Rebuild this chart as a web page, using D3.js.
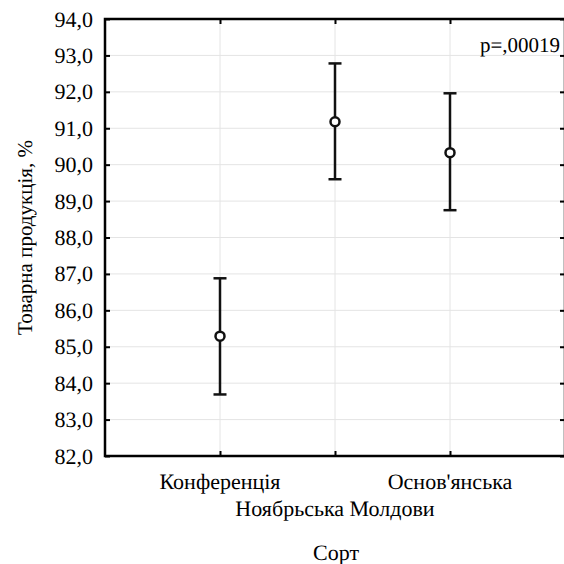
<!DOCTYPE html>
<html>
<head>
<meta charset="utf-8" />
<title>Товарна продукція</title>
<style>
  body { margin: 0; background: #fff; }
  svg { display: block; }
  svg text { text-rendering: geometricPrecision; }
</style>
</head>
<body>
<div id="chart"></div>
<script src="https://d3js.org/d3.v7.min.js"></script>
<script>
(function(d3) {
'use strict';

// data
var categories = ['Конференція', 'Ноябрьська Молдови', "Основ'янська"];
var means = [85.29, 91.18, 90.33];
var lower = [83.69, 89.60, 88.75];
var upper = [86.88, 92.78, 91.96];
var yTicks = [82, 83, 84, 85, 86, 87, 88, 89, 90, 91, 92, 93, 94];
var pLabel = 'p=,00019';

var width = 564, height = 564;
var left = 105, right = 565, top = 19, bottom = 456;
var serif = '"Liberation Serif"';

var svg = d3.select('#chart')
  .append('svg')
  .attr('width', width)
  .attr('height', height);

var x = d3.scalePoint()
  .domain(categories)
  .range([left, right])
  .padding(1);

var y = d3.scaleLinear()
  .domain([82, 94])
  .range([bottom, top]);

var fmt = function(d) { return d3.format('.1f')(d).replace('.', ','); };

// grid
svg.append('g').selectAll('line')
  .data(yTicks)
  .enter().append('line')
  .attr('x1', left).attr('x2', right)
  .attr('y1', function(d) { return y(d); })
  .attr('y2', function(d) { return y(d); })
  .attr('stroke', '#e4e4e4').attr('stroke-width', 1);

svg.append('g').selectAll('line')
  .data(categories)
  .enter().append('line')
  .attr('x1', function(d) { return x(d); })
  .attr('x2', function(d) { return x(d); })
  .attr('y1', top).attr('y2', bottom)
  .attr('stroke', '#e4e4e4').attr('stroke-width', 1);

// axes (ticks inward)
var tickLen = 5;
function styleTicks(g) {
  g.select('.domain').remove();
  g.selectAll('.tick line').attr('stroke', '#000').attr('stroke-width', 2);
}

svg.append('g')
  .attr('transform', 'translate(' + left + ',0)')
  .call(d3.axisLeft(y).tickValues(yTicks).tickSize(-tickLen).tickPadding(12).tickFormat(fmt))
  .call(styleTicks)
  .call(function(g) {
    g.attr('font-family', null).attr('font-size', null);
    g.selectAll('text')
      .style('font-family', serif)
      .style('font-size', '22px')
      .attr('fill', '#000');
  });

svg.append('g')
  .attr('transform', 'translate(' + right + ',0)')
  .call(d3.axisRight(y).tickValues(yTicks).tickSize(-tickLen).tickFormat(''))
  .call(styleTicks);

svg.append('g')
  .attr('transform', 'translate(0,' + bottom + ')')
  .call(d3.axisBottom(x).tickSize(-tickLen).tickFormat(''))
  .call(styleTicks);

svg.append('g')
  .attr('transform', 'translate(0,' + top + ')')
  .call(d3.axisTop(x).tickSize(-tickLen).tickFormat(''))
  .call(styleTicks);

// staggered category labels
svg.append('g').selectAll('text')
  .data(categories)
  .enter().append('text')
  .attr('x', function(d) { return x(d); })
  .attr('y', function(d, i) { return i % 2 === 0 ? 489 : 516; })
  .attr('text-anchor', 'middle')
  .style('font-family', serif)
  .style('font-size', '22px')
  .text(function(d) { return d; });

// frame
svg.append('rect')
  .attr('x', left).attr('y', top)
  .attr('width', right - left).attr('height', bottom - top)
  .attr('fill', 'none').attr('stroke', '#000').attr('stroke-width', 2.5);

// error bars
var capW = 13;
var bars = svg.append('g').selectAll('g')
  .data(categories)
  .enter().append('g');

bars.append('line')
  .attr('x1', function(d) { return x(d); })
  .attr('x2', function(d) { return x(d); })
  .attr('y1', function(d, i) { return y(upper[i]); })
  .attr('y2', function(d, i) { return y(lower[i]); })
  .attr('stroke', '#111').attr('stroke-width', 2.5);

bars.append('line')
  .attr('x1', function(d) { return x(d) - capW / 2; })
  .attr('x2', function(d) { return x(d) + capW / 2; })
  .attr('y1', function(d, i) { return y(upper[i]); })
  .attr('y2', function(d, i) { return y(upper[i]); })
  .attr('stroke', '#111').attr('stroke-width', 2.5);

bars.append('line')
  .attr('x1', function(d) { return x(d) - capW / 2; })
  .attr('x2', function(d) { return x(d) + capW / 2; })
  .attr('y1', function(d, i) { return y(lower[i]); })
  .attr('y2', function(d, i) { return y(lower[i]); })
  .attr('stroke', '#111').attr('stroke-width', 2.5);

bars.append('circle')
  .attr('cx', function(d) { return x(d); })
  .attr('cy', function(d, i) { return y(means[i]); })
  .attr('r', 4.5)
  .attr('fill', '#fff')
  .attr('stroke', '#111').attr('stroke-width', 2.5);

// annotation
svg.append('text')
  .attr('x', 560).attr('y', 52)
  .attr('text-anchor', 'end')
  .style('font-family', serif)
  .style('font-size', '21px')
  .text(pLabel);

// axis titles
svg.append('text')
  .attr('transform', 'translate(32,' + ((top + bottom) / 2) + ') rotate(-90)')
  .attr('text-anchor', 'middle')
  .style('font-family', serif)
  .style('font-size', '21px')
  .text('Товарна продукція, %');

svg.append('text')
  .attr('x', 336).attr('y', 560)
  .attr('text-anchor', 'middle')
  .style('font-family', serif)
  .style('font-size', '22px')
  .text('Сорт');

})(window.d3);
</script>
</body>
</html>
